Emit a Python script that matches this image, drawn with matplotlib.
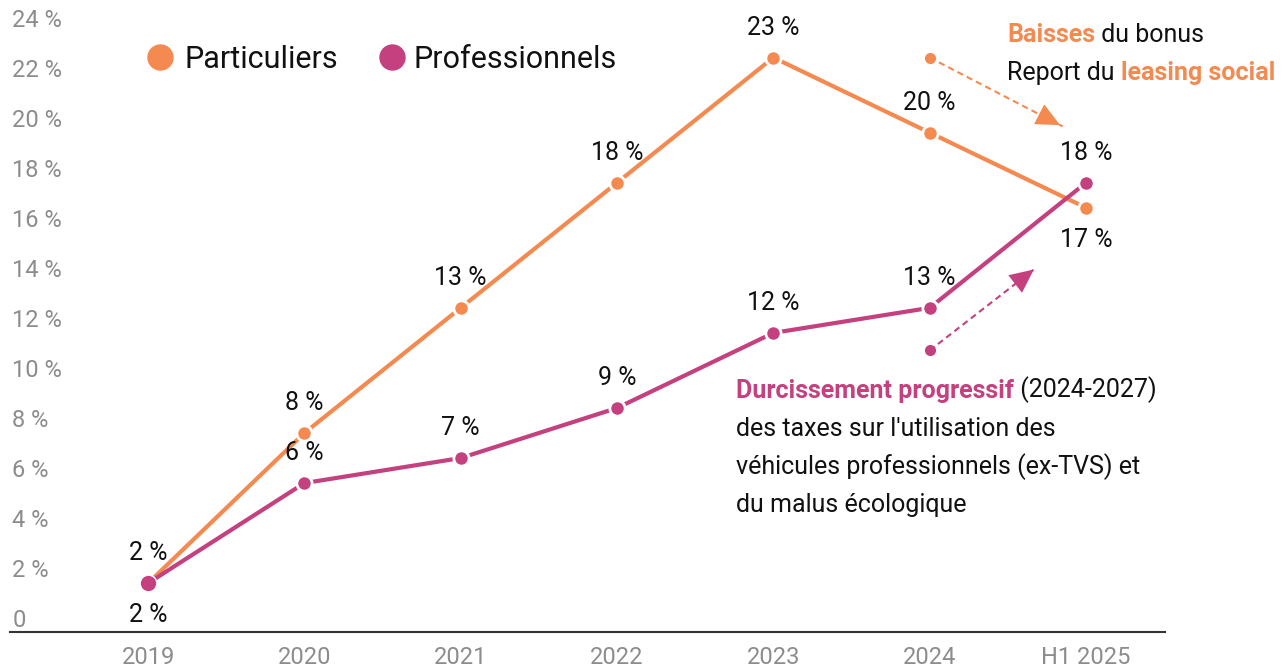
import matplotlib
matplotlib.use("Agg")
import matplotlib.pyplot as plt
from matplotlib.lines import Line2D

plt.rcParams['font.family'] = ['Roboto', 'DejaVu Sans']

# ---- data ----
categories = ["2019", "2020", "2021", "2022", "2023", "2024", "H1 2025"]
particuliers = [1.5, 7.5, 12.5, 17.5, 22.5, 19.5, 16.5]
professionnels = [1.5, 5.5, 6.5, 8.5, 11.5, 12.5, 17.5]
part_labels = ["2 %", "8 %", "13 %", "18 %", "23 %", "20 %", "17 %"]
pro_labels = ["2 %", "6 %", "7 %", "9 %", "12 %", "13 %", "18 %"]
part_label_pos = ["above", "above", "above", "above", "above", "above", "below"]
pro_label_pos = ["below", "above", "above", "above", "above", "above", "above"]
ytick_values = [0, 2, 4, 6, 8, 10, 12, 14, 16, 18, 20, 22, 24]
ytick_labels = ["0"] + [f"{v} %" for v in ytick_values[1:]]

ORANGE = "#F58A50"
MAGENTA = "#C4407E"
GRAY = "#8C8C8C"

W, H = 1284, 670
fig = plt.figure(figsize=(W / 100, H / 100), dpi=100)
ax_left, ax_right, ax_bottom_px = 10, 1165, 632
ax = fig.add_axes([ax_left / W, (H - ax_bottom_px) / H, (ax_right - ax_left) / W, ax_bottom_px / H])
x = list(range(len(categories)))
ax.set_xlim(-0.883, 6.505)
ax.set_ylim(-0.45, 24.8)

for s in ["top", "right", "left"]:
    ax.spines[s].set_visible(False)
ax.spines["bottom"].set_color("#333333")
ax.spines["bottom"].set_linewidth(1.5)
ax.set_yticks([])
ax.set_xticks(x)
ax.set_xticklabels(categories, color=GRAY, fontsize=17)
ax.tick_params(axis="x", length=0, pad=10)

ytr = ax.get_yaxis_transform()
for v, lab in zip(ytick_values, ytick_labels):
    ax.text(0.002, v, lab, transform=ytr, ha="left", va="center", color=GRAY, fontsize=17)

for vals, color, labels, poss in [(particuliers, ORANGE, part_labels, part_label_pos),
                                  (professionnels, MAGENTA, pro_labels, pro_label_pos)]:
    ax.plot(x, vals, color=color, lw=3, marker="o", markersize=11,
            markeredgecolor="white", markeredgewidth=2, solid_capstyle="butt", zorder=3)
    for xi, v, lab, p in zip(x, vals, labels, poss):
        off = 21.5 if p == "above" else -23
        ax.annotate(lab, xy=(xi, v), xytext=(0, off), textcoords="offset points",
                    ha="center", va="center", fontsize=18, color="#111111")

# redraw 2019 magenta point on top
ax.plot([x[0]], [professionnels[0]], "o", color=MAGENTA, markersize=11,
        markeredgecolor="white", markeredgewidth=0, zorder=4)

# ---- arrows ----
def dashed_arrow(start, end, color):
    ax.plot([start[0], end[0]], [start[1], end[1]], color=color, lw=1.5,
            linestyle=(0, (3, 2)), zorder=2)
    ax.plot([start[0]], [start[1]], "o", color=color, markersize=7, zorder=2)
    dx = end[0] - start[0]
    dy = end[1] - start[1]
    ax.annotate("", xy=end, xytext=(end[0] - dx * 0.05, end[1] - dy * 0.05),
                arrowprops=dict(arrowstyle="-|>,head_length=0.85,head_width=0.4",
                                color=color, lw=0, mutation_scale=20), zorder=2)

dashed_arrow((5, 22.5), (5.85, 19.75), ORANGE)
dashed_arrow((5, 10.8), (5.68, 14.1), MAGENTA)

# ---- rich text helper ----
def chain(x_px, base_px, parts, size=18):
    t = fig.text(x_px / W, 1 - base_px / H, parts[0][0], color=parts[0][1],
                 fontweight=parts[0][2], fontsize=size, ha="left", va="baseline")
    for txt, col, wt in parts[1:]:
        t = fig.add_artist(plt.Annotation(txt, xy=(1, 0), xycoords=t, va="bottom", ha="left",
                                          color=col, fontweight=wt, fontsize=size))
    return t

chain(1007, 42, [("Baisses", ORANGE, "bold"), (" du bonus", "#111111", "normal")])
chain(1007, 80, [("Report du ", "#111111", "normal"), ("leasing social", ORANGE, "bold")])
chain(736, 398, [("Durcissement progressif", MAGENTA, "bold"), (" (2024-2027)", "#111111", "normal")])
for i, line in enumerate(["des taxes sur l'utilisation des",
                          "véhicules professionnels (ex-TVS) et",
                          "du malus écologique"]):
    fig.text(736 / W, 1 - (436 + 38 * i) / H, line, color="#111111", fontsize=18,
             ha="left", va="baseline")

# ---- legend ----
for cx, tx, col, lab in [(160, 185, ORANGE, "Particuliers"), (392, 413, MAGENTA, "Professionnels")]:
    fig.add_artist(Line2D([cx / W], [1 - 57 / H], marker="o", markersize=18, color=col,
                          linestyle="none", transform=fig.transFigure))
    fig.text(tx / W, 1 - 68 / H, lab, fontsize=22, color="#111111", ha="left", va="baseline")

fig.savefig("out.png", dpi=100)
